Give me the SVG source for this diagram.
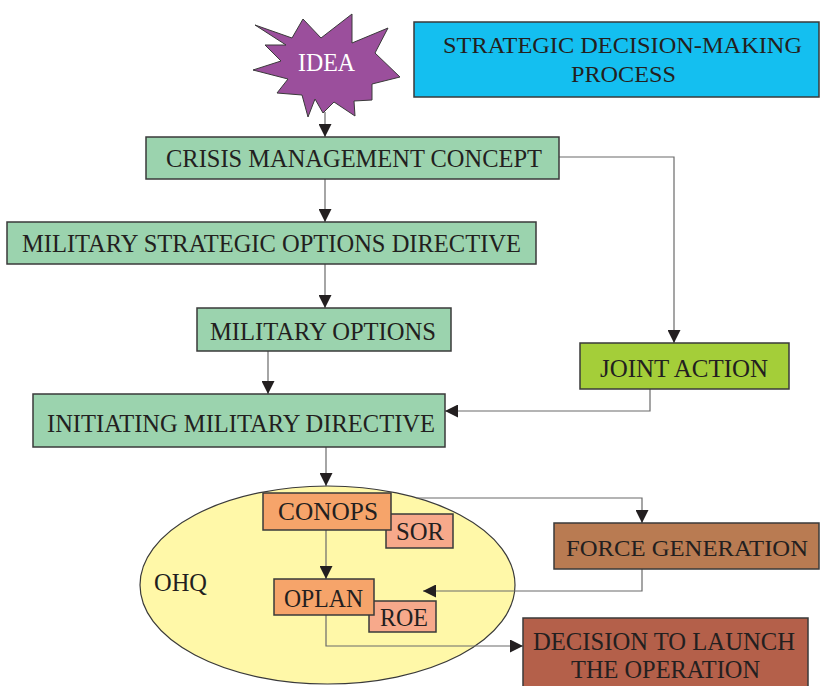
<svg xmlns="http://www.w3.org/2000/svg" width="820" height="686" viewBox="0 0 820 686">
<style>
  .box { stroke: #3a3a3a; stroke-width: 1.5; }
  .green { fill: #9bd3ae; }
  .t { font-family: "Liberation Serif", "Times New Roman", serif; font-size: 26px; fill: #231f20; }
  .s { font-size: 24px; }
  .conn { fill: none; stroke: #6a6a6a; stroke-width: 1.2; }
</style>
<defs>
  <marker id="arr" markerUnits="userSpaceOnUse" markerWidth="14" markerHeight="13" refX="13" refY="6.5" orient="auto">
    <path d="M0,0 L13,6.5 L0,13 z" fill="#231f20"/>
  </marker>
</defs>
<rect width="820" height="686" fill="#ffffff"/>

<g id="ohq">
  <ellipse cx="327.5" cy="585" rx="187.5" ry="99" fill="#fff8a8" stroke="#3a3a3a" stroke-width="1.2"/>
  <text class="t" x="154" y="591" textLength="53" lengthAdjust="spacingAndGlyphs">OHQ</text>
</g>

<g id="connectors">
  <path class="conn" d="M325 112 V137" marker-end="url(#arr)"/>
  <path class="conn" d="M325 179 V222" marker-end="url(#arr)"/>
  <path class="conn" d="M325 264 V308" marker-end="url(#arr)"/>
  <path class="conn" d="M268 351 V394" marker-end="url(#arr)"/>
  <path class="conn" d="M559 157 H674 V343" marker-end="url(#arr)"/>
  <path class="conn" d="M650 389 V411 H445" marker-end="url(#arr)"/>
  <path class="conn" d="M326 447 V486" marker-end="url(#arr)"/>
  <path class="conn" d="M416 498 H642 V523" marker-end="url(#arr)"/>
  <path class="conn" d="M326 530 V579" marker-end="url(#arr)"/>
  <path class="conn" d="M642 569 V591 H423" marker-end="url(#arr)"/>
  <path class="conn" d="M326 615 V646 H523" marker-end="url(#arr)"/>
</g>

<g id="idea">
  <path d="M255,25 L292,38 L303,19 L321,38 L352,14 L352,43 L388,28 L375,53 L400,77 L372,84 L372,100 L354,101 L355,116 L334,102 L323,113 L315,99 L308,117 L302,95 L277,93 L288,79 L253,70 L281,61 L265,45 L286,45 Z" fill="#9b4f9c" stroke="#3a3a3a" stroke-width="1"/>
  <text class="t" x="298" y="71" textLength="57" lengthAdjust="spacingAndGlyphs" style="fill:#ffffff">IDEA</text>
</g>

<g id="sdmp">
  <rect class="box" x="414" y="22" width="405" height="75" fill="#14bff0"/>
  <text class="t s" x="443" y="53" textLength="359" lengthAdjust="spacingAndGlyphs">STRATEGIC DECISION-MAKING</text>
  <text class="t s" x="571" y="82" textLength="105" lengthAdjust="spacingAndGlyphs">PROCESS</text>
</g>

<g id="cmc">
  <rect class="box green" x="146" y="137" width="413" height="42"/>
  <text class="t" x="166" y="167" textLength="376" lengthAdjust="spacingAndGlyphs">CRISIS MANAGEMENT CONCEPT</text>
</g>

<g id="msod">
  <rect class="box green" x="7" y="222" width="529" height="42"/>
  <text class="t" x="22" y="252" textLength="499" lengthAdjust="spacingAndGlyphs">MILITARY STRATEGIC OPTIONS DIRECTIVE</text>
</g>

<g id="mo">
  <rect class="box green" x="197" y="308" width="254" height="43"/>
  <text class="t" x="210" y="340" textLength="226" lengthAdjust="spacingAndGlyphs">MILITARY OPTIONS</text>
</g>

<g id="ja">
  <rect class="box" x="580" y="343" width="209" height="46" fill="#a4ce39"/>
  <text class="t" x="600" y="377" textLength="168" lengthAdjust="spacingAndGlyphs">JOINT ACTION</text>
</g>

<g id="imd">
  <rect class="box green" x="33" y="394" width="412" height="53"/>
  <text class="t" x="47" y="432" textLength="388" lengthAdjust="spacingAndGlyphs">INITIATING MILITARY DIRECTIVE</text>
</g>

<g id="sor">
  <rect class="box" x="386" y="514" width="67" height="34" fill="#f7a98b"/>
  <text class="t" x="396" y="540" textLength="48" lengthAdjust="spacingAndGlyphs">SOR</text>
</g>

<g id="conops">
  <rect class="box" x="263" y="493" width="128" height="37" fill="#f6a46a"/>
  <text class="t" x="278" y="520" textLength="100" lengthAdjust="spacingAndGlyphs">CONOPS</text>
</g>

<g id="roe">
  <rect class="box" x="369" y="601" width="67" height="31" fill="#f7a98b"/>
  <text class="t" x="380" y="626" textLength="48" lengthAdjust="spacingAndGlyphs">ROE</text>
</g>

<g id="oplan">
  <rect class="box" x="274" y="579" width="100" height="36" fill="#f6a46a"/>
  <text class="t" x="284" y="607" textLength="79" lengthAdjust="spacingAndGlyphs">OPLAN</text>
</g>

<g id="fg">
  <rect class="box" x="554" y="523" width="265" height="46" fill="#b97b52"/>
  <text class="t s" x="566" y="556" textLength="242" lengthAdjust="spacingAndGlyphs">FORCE GENERATION</text>
</g>

<g id="dtl">
  <rect class="box" x="523" y="618" width="285" height="80" fill="#b4604a"/>
  <text class="t" x="533" y="650" textLength="262" lengthAdjust="spacingAndGlyphs">DECISION TO LAUNCH</text>
  <text class="t" x="571" y="678" textLength="189" lengthAdjust="spacingAndGlyphs">THE OPERATION</text>
</g>
</svg>
